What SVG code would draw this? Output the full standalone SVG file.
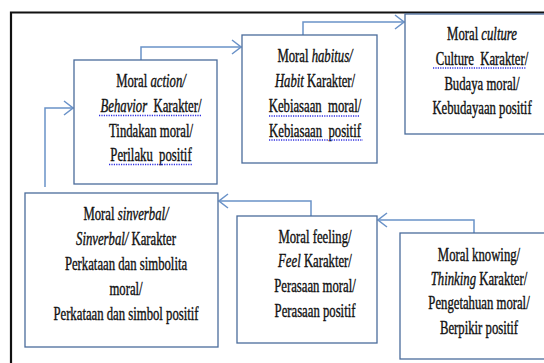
<svg xmlns="http://www.w3.org/2000/svg" width="544" height="363" viewBox="0 0 544 363">
<style>
.box{fill:#fff;stroke:#4a6c9b;stroke-width:1.3}
.frame{fill:none;stroke:#111;stroke-width:2.2}
.conn{fill:none;stroke:#6a92c8;stroke-width:1.5}
.t{font-family:"Liberation Serif","Times New Roman",serif;font-size:19px;fill:#111;stroke:#111;stroke-width:0.4;text-anchor:middle;white-space:pre}
.i{font-style:italic}
.sq{stroke:#2f2fe0;stroke-width:1.6;stroke-dasharray:1.2 1.2;fill:none}
</style>
<defs>
<marker id="arr" viewBox="-10 -8 11 16" refX="0" refY="0" markerWidth="11" markerHeight="16" markerUnits="userSpaceOnUse" orient="auto">
<path d="M-9,-7 L0,0 L-9,7" fill="none" stroke="#6a92c8" stroke-width="1.5"/>
</marker>
</defs>
<rect width="544" height="363" fill="#fff"/>
<path class="frame" d="M11,363 V12.5 H544"/>
<g id="connectors">
<path class="conn" d="M45,187 V108 H73" marker-end="url(#arr)"/>
<path class="conn" d="M141,60 V47 H241" marker-end="url(#arr)"/>
<path class="conn" d="M303,35 V22 H404" marker-end="url(#arr)"/>
<path class="conn" d="M474,233 V220 H378" marker-end="url(#arr)"/>
<path class="conn" d="M311,216 V201 H219" marker-end="url(#arr)"/>
</g>
<g id="node-action">
<rect class="box" x="74" y="60" width="143" height="124"/>
<g transform="translate(151 0) scale(0.67 1)">
<text class="t" x="0" y="87">Moral <tspan class="i">action/</tspan></text>
<text class="t" x="0" y="112"><tspan class="i">Behavior</tspan>  Karakter/</text>
<text class="t" x="0" y="137">Tindakan moral/</text>
<text class="t" x="0" y="161">Perilaku  positif</text>
</g>
<path class="sq" d="M99,115.5 H201 M109,164.5 H193"/>
</g>
<g id="node-habitus">
<rect class="box" x="242" y="35" width="135" height="128"/>
<g transform="translate(315 0) scale(0.67 1)">
<text class="t" x="0" y="62">Moral <tspan class="i">habitus/</tspan></text>
<text class="t" x="0" y="87"><tspan class="i">Habit</tspan> Karakter/</text>
<text class="t" x="0" y="112">Kebiasaan  moral/</text>
<text class="t" x="0" y="137">Kebiasaan  positif</text>
</g>
<path class="sq" d="M269,116 H360 M269,140 H363"/>
</g>
<g id="node-culture">
<rect class="box" x="405" y="14" width="141" height="120"/>
<g transform="translate(482 0) scale(0.67 1)">
<text class="t" x="0" y="40">Moral <tspan class="i">culture</tspan></text>
<text class="t" x="0" y="65">Culture  Karakter/</text>
<text class="t" x="0" y="90">Budaya moral/</text>
<text class="t" x="0" y="114">Kebudayaan positif</text>
</g>
<path class="sq" d="M433,68 H526"/>
</g>
<g id="node-sinverbal">
<rect class="box" x="25" y="193" width="193" height="154"/>
<g transform="translate(126 0) scale(0.67 1)">
<text class="t" x="0" y="220">Moral <tspan class="i">sinverbal/</tspan></text>
<text class="t" x="0" y="245"><tspan class="i">Sinverbal/</tspan> Karakter</text>
<text class="t" x="0" y="270">Perkataan dan simbolita</text>
<text class="t" x="0" y="295">moral/</text>
<text class="t" x="0" y="320">Perkataan dan simbol positif</text>
</g>
</g>
<g id="node-feeling">
<rect class="box" x="237" y="216" width="140" height="127"/>
<g transform="translate(315 0) scale(0.67 1)">
<text class="t" x="0" y="243">Moral feeling/</text>
<text class="t" x="0" y="267"><tspan class="i">Feel</tspan> Karakter/</text>
<text class="t" x="0" y="292">Perasaan moral/</text>
<text class="t" x="0" y="317">Perasaan positif</text>
</g>
</g>
<g id="node-knowing">
<rect class="box" x="400" y="233" width="146" height="126"/>
<g transform="translate(479 0) scale(0.67 1)">
<text class="t" x="0" y="261">Moral knowing/</text>
<text class="t" x="0" y="285"><tspan class="i">Thinking</tspan> Karakter/</text>
<text class="t" x="0" y="309">Pengetahuan moral/</text>
<text class="t" x="0" y="334">Berpikir positif</text>
</g>
</g>
</svg>
